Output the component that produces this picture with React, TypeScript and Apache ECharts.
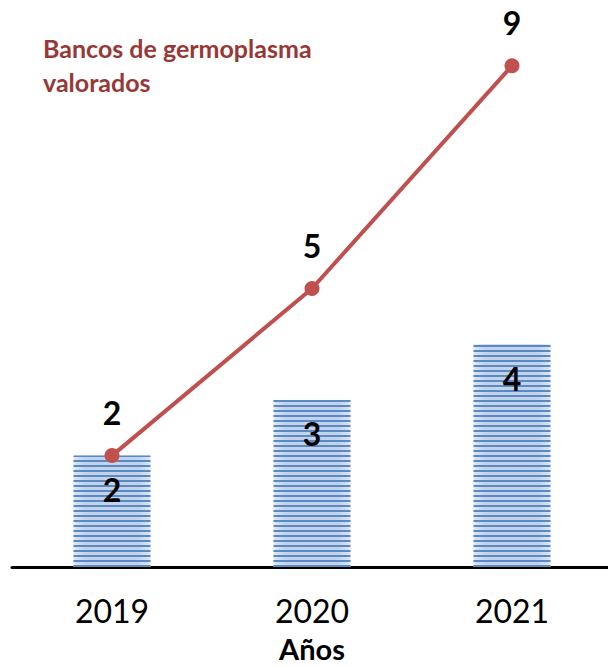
import React, { useEffect, useRef } from "react";
import * as echarts from "echarts";

const categories = ["2019", "2020", "2021"];
const barValues = [2, 3, 4];
const lineValues = [2, 5, 9];
const titleText = "Bancos de germoplasma\nvalorados";
const axisName = "Años";

export default function App() {
  const ref = useRef<HTMLDivElement>(null);
  useEffect(() => {
    document.body.style.margin = "0";
    const chart = echarts.init(ref.current!, null, { renderer: "svg" });
    chart.setOption({
      animation: false,
      backgroundColor: "#ffffff",
      title: {
        text: titleText,
        left: 38,
        top: 26,
        textStyle: {
          color: "#973837",
          fontFamily: "Lato",
          fontWeight: "bold",
          fontSize: 25,
          lineHeight: 34,
        },
      },
      grid: {
        left: 12,
        right: -4,
        top: 10,
        bottom: 100,
        containLabel: false,
        outerBoundsMode: "none",
      },
      xAxis: {
        type: "category",
        data: categories,
        axisLine: { show: true, lineStyle: { color: "#000", width: 3 } },
        axisTick: { show: false },
        axisLabel: {
          color: "#000",
          fontFamily: "Lato",
          fontSize: 32,
          margin: 27,
        },
        name: axisName,
        nameLocation: "middle",
        nameGap: 67,
        nameTextStyle: {
          color: "#000",
          fontFamily: "Lato",
          fontWeight: "bold",
          fontSize: 29,
          lineHeight: 29,
        },
      },
      yAxis: {
        type: "value",
        min: 0,
        max: 10,
        show: false,
        splitLine: { show: false },
      },
      series: [
        {
          type: "bar",
          data: barValues,
          barWidth: 77,
          itemStyle: {
            color: {
              type: "linear",
              x: 0,
              y: 0,
              x2: 1,
              y2: 0,
              colorStops: [
                { offset: 0, color: "#dfe8f5" },
                { offset: 0.15, color: "#c2d4ec" },
                { offset: 0.85, color: "#c2d4ec" },
                { offset: 1, color: "#dfe8f5" },
              ],
            },
            decal: {
              symbol: "rect",
              symbolSize: 1,
              color: "#5b89c4",
              dashArrayX: [1, 0],
              dashArrayY: [2, 3],
              rotation: 0,
            },
          },
          label: {
            show: true,
            position: "insideTop",
            distance: 18,
            color: "#000",
            fontFamily: "Lato",
            fontWeight: "bold",
            fontSize: 32,
          },
          z: 1,
        },
        {
          type: "line",
          data: lineValues,
          symbol: "circle",
          symbolSize: 15,
          lineStyle: { color: "#c0504d", width: 4 },
          itemStyle: { color: "#c0504d" },
          label: {
            show: true,
            position: "top",
            distance: 20,
            color: "#000",
            fontFamily: "Lato",
            fontWeight: "bold",
            fontSize: 32,
          },
          z: 3,
        },
      ],
    });
    return () => chart.dispose();
  }, []);
  return (
    <div
      ref={ref}
      style={{ position: "absolute", left: 0, top: 0, width: 608, height: 667 }}
    />
  );
}
